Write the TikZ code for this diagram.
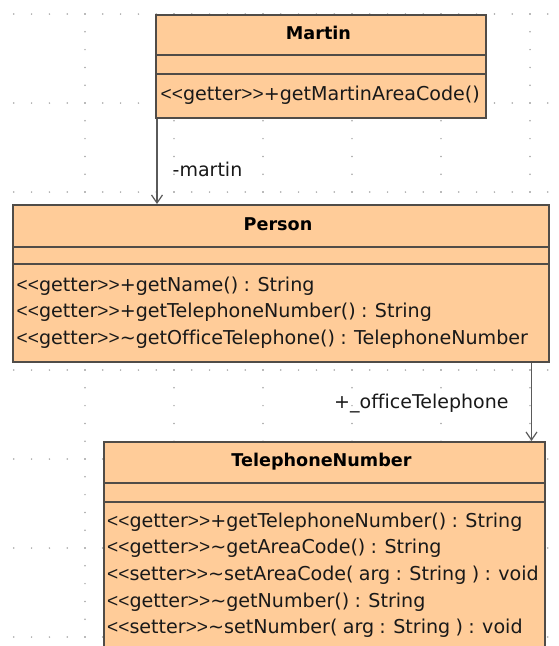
\documentclass[tikz,border=0pt]{standalone}
\usepackage{fontspec}
\newfontfamily\umlfont{DejaVu Sans}[Ligatures={NoCommon,NoRequired,NoContextual}, WordSpace=0.88]
\newfontfamily\brkfont{Liberation Sans}
\newcommand\stereo[1]{{\brkfont<<}#1{\brkfont>>}}
\usetikzlibrary{arrows.meta}
\definecolor{classfill}{RGB}{255,204,153}
\definecolor{classline}{RGB}{80,76,72}
\definecolor{assocline}{RGB}{90,90,90}
\definecolor{griddot}{RGB}{165,165,165}
\tikzset{
  classbox/.style={draw=classline, fill=classfill, line width=1.5pt, rectangle, inner sep=0pt, anchor=north west},
  sepline/.style={draw=classline, line width=1.4pt},
  titletext/.style={inner sep=0pt, anchor=base, font=\umlfont\bfseries\fontsize{17.6}{22}\selectfont},
  methodtext/.style={inner sep=0pt, anchor=base west, font=\umlfont\fontsize{19.1}{22}\selectfont, text=black!90},
  lbl/.style={inner sep=0pt, anchor=base west, font=\umlfont\fontsize{19}{22}\selectfont, text=black!90},
  assoc/.style={draw=assocline, line width=1.2pt, -{Straight Barb[length=8pt,width=11pt]}},
  gdot/.style={fill=griddot}
}
\begin{document}
\begin{tikzpicture}[x=1pt,y=-1pt]
\clip (0,0) rectangle (558,646);
\fill[white] (0,0) rectangle (558,646);
% dotted grid
\foreach \r in {0,...,7} {
  \foreach \c in {0,...,30} {
    \fill[gdot] (13.8+17.8*\c, 14+89*\r) circle (0.85pt);
  }
}
\foreach \c in {0,...,5} {
  \foreach \r in {0,...,35} {
    \fill[gdot] (85+89*\c, 14+17.8*\r) circle (0.85pt);
  }
}
% Martin
\node[classbox, minimum width=330pt, minimum height=103pt] (martin) at (155,14) {};
\draw[sepline] ([yshift=-41pt]martin.north west) -- ([yshift=-41pt]martin.north east);
\draw[sepline] ([yshift=-60pt]martin.north west) -- ([yshift=-60pt]martin.north east);
\node[titletext] (martinT) at (318.5,39.3) {Martin};
\node[methodtext] (martinM1) at (160.5,100) {\stereo{getter}+getMartinAreaCode()};
% Person
\node[classbox, minimum width=536pt, minimum height=157pt] (person) at (12,204) {};
\draw[sepline] ([yshift=-43pt]person.north west) -- ([yshift=-43pt]person.north east);
\draw[sepline] ([yshift=-60pt]person.north west) -- ([yshift=-60pt]person.north east);
\node[titletext] (personT) at (278,230) {Person};
\node[methodtext] (personM1) at (16.5,291) {\stereo{getter}+getName() : String};
\node[methodtext] (personM2) at (16.5,317.5) {\stereo{getter}+getTelephoneNumber() : String};
\node[methodtext] (personM3) at (16.5,344) {\stereo{getter}\textasciitilde getOfficeTelephone() : TelephoneNumber};
% TelephoneNumber
\node[classbox, minimum width=441pt, minimum height=260pt] (tel) at (103,441) {};
\draw[sepline] ([yshift=-42pt]tel.north west) -- ([yshift=-42pt]tel.north east);
\draw[sepline] ([yshift=-61pt]tel.north west) -- ([yshift=-61pt]tel.north east);
\node[titletext] (telT) at (321.5,466) {TelephoneNumber};
\node[methodtext] (telM1) at (107,527.3) {\stereo{getter}+getTelephoneNumber() : String};
\node[methodtext] (telM2) at (107,553.9) {\stereo{getter}\textasciitilde getAreaCode() : String};
\node[methodtext] (telM3) at (107,580.5) {\stereo{setter}\textasciitilde setAreaCode( arg : String ) : void};
\node[methodtext] (telM4) at (107,607.1) {\stereo{getter}\textasciitilde getNumber() : String};
\node[methodtext] (telM5) at (107,633.7) {\stereo{setter}\textasciitilde setNumber( arg : String ) : void};
% associations
\draw[assoc] ([xshift=2pt]martin.south west) -- ([xshift=2pt]martin.south west |- person.north);
\node[lbl] (lmartin) at (172.5,176.7) {-martin};
\draw[assoc] ([xshift=-18pt]person.south east) -- ([xshift=-18pt]person.south east |- tel.north);
\node[lbl] (loffice) at (334,408.3) {+\_officeTelephone};
\end{tikzpicture}
\end{document}
